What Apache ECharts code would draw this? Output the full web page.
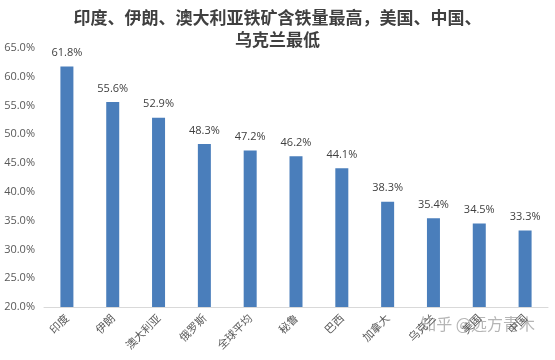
<!DOCTYPE html>
<html>
<head>
<meta charset="utf-8">
<script src="https://cdn.jsdelivr.net/npm/echarts@6/dist/echarts.min.js"></script>
<style>html,body{margin:0;padding:0;background:#fff;}#c{width:555px;height:360px;}</style>
</head>
<body>
<div id="c"></div>
<script>
var categories = ['印度', '伊朗', '澳大利亚', '俄罗斯', '全球平均', '秘鲁', '巴西', '加拿大', '乌克兰', '美国', '中国'];
var ironContent = [61.8, 55.6, 52.9, 48.3, 47.2, 46.2, 44.1, 38.3, 35.4, 34.5, 33.3];
var titleText = '印度、伊朗、澳大利亚铁矿含铁量最高，美国、中国、\n乌克兰最低';
var watermark = '知乎 @远方青木';

var chart = echarts.init(document.getElementById('c'));
chart.setOption({
  backgroundColor: '#ffffff',
  animation: false,
  title: {
    text: titleText,
    left: 'center',
    top: 2,
    textStyle: {
      fontFamily: 'Noto Sans CJK SC',
      fontSize: 17,
      fontWeight: 'bold',
      lineHeight: 22,
      color: '#404040'
    }
  },
  grid: { left: 44, right: 7, top: 48, bottom: 53 },
  xAxis: {
    type: 'category',
    data: categories,
    axisLine: { lineStyle: { color: '#d9d9d9' } },
    axisTick: { show: false },
    axisLabel: {
      rotate: 45,
      interval: 0,
      fontSize: 11,
      color: '#595959',
      fontFamily: 'Noto Sans CJK SC',
      margin: 9
    }
  },
  yAxis: {
    type: 'value',
    min: 20,
    max: 65,
    interval: 5,
    axisLine: { show: false },
    axisTick: { show: false },
    splitLine: { show: false },
    axisLabel: {
      formatter: function (v) { return v.toFixed(1) + '%'; },
      fontSize: 11,
      color: '#595959',
      fontFamily: 'Open Sans',
      margin: 9
    }
  },
  series: [{
    type: 'bar',
    data: ironContent,
    barWidth: 13,
    itemStyle: { color: '#4a7ebb' },
    label: {
      show: true,
      position: 'top',
      distance: 8,
      formatter: function (p) { return p.value.toFixed(1) + '%'; },
      fontSize: 11,
      color: '#404040',
      fontFamily: 'Open Sans'
    }
  }],
  graphic: [{
    type: 'text',
    right: 20,
    top: 316,
    style: {
      text: watermark,
      fontSize: 16,
      fontFamily: 'Noto Sans CJK SC',
      fill: 'rgba(150,150,150,0.7)'
    }
  }]
});
</script>
</body>
</html>
